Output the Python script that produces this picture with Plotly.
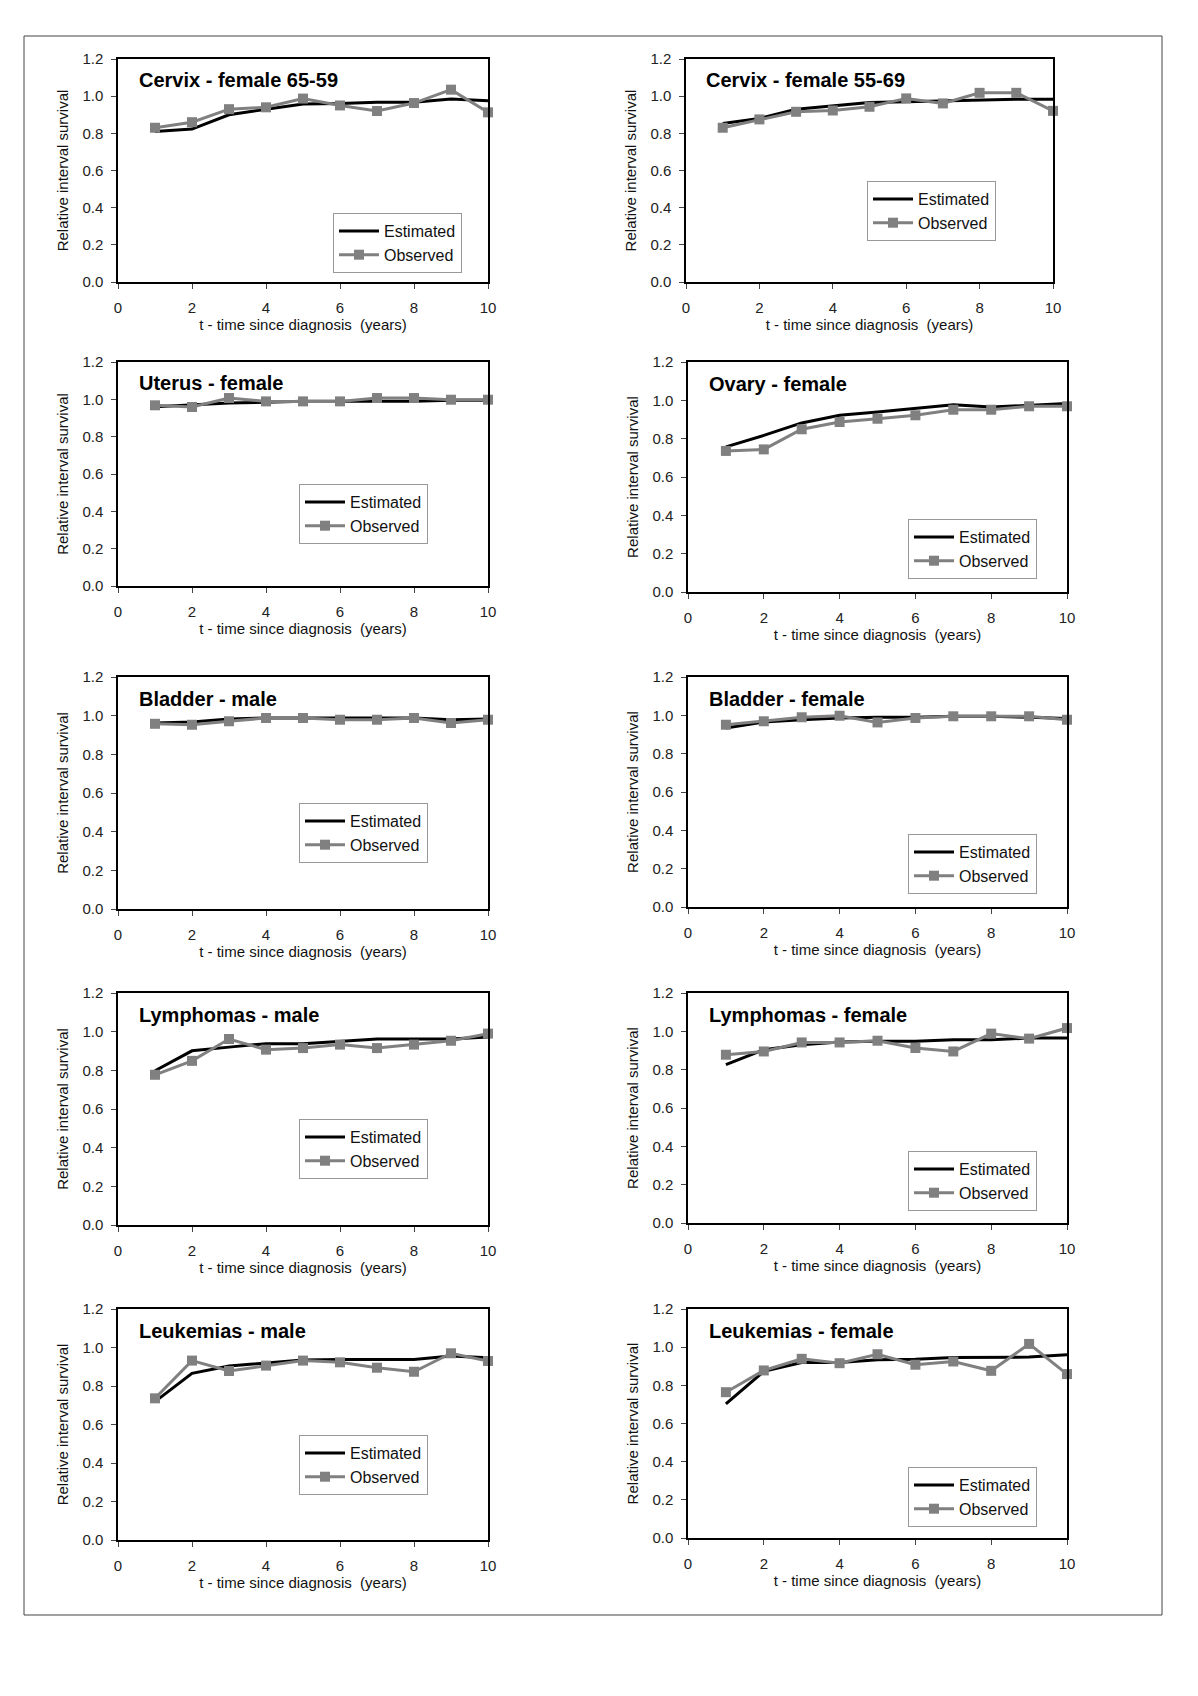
import plotly.graph_objects as go

# years since diagnosis
t = [1, 2, 3, 4, 5, 6, 7, 8, 9, 10]

panel_titles = ["Cervix - female 65-59", "Cervix - female 55-69",
                "Uterus - female", "Ovary - female",
                "Bladder - male", "Bladder - female",
                "Lymphomas - male", "Lymphomas - female",
                "Leukemias - male", "Leukemias - female"]

cervix_6559_est = [0.81, 0.823, 0.90, 0.927, 0.958, 0.96, 0.967, 0.967, 0.985, 0.976]
cervix_6559_obs = [0.83, 0.86, 0.93, 0.94, 0.987, 0.95, 0.92, 0.963, 1.035, 0.913]
cervix_5569_est = [0.853, 0.88, 0.93, 0.948, 0.966, 0.97, 0.975, 0.979, 0.984, 0.984]
cervix_5569_obs = [0.83, 0.875, 0.916, 0.923, 0.943, 0.988, 0.961, 1.018, 1.018, 0.921]
uterus_est = [0.96, 0.97, 0.98, 0.985, 0.99, 0.99, 0.99, 0.99, 0.995, 0.995]
uterus_obs = [0.968, 0.959, 1.007, 0.989, 0.989, 0.989, 1.007, 1.007, 0.998, 0.998]
ovary_est = [0.757, 0.817, 0.882, 0.922, 0.939, 0.957, 0.977, 0.965, 0.974, 0.983]
ovary_obs = [0.736, 0.744, 0.849, 0.887, 0.904, 0.922, 0.951, 0.951, 0.969, 0.969]
bladder_m_est = [0.962, 0.967, 0.983, 0.988, 0.988, 0.988, 0.988, 0.988, 0.979, 0.983]
bladder_m_obs = [0.958, 0.953, 0.971, 0.988, 0.988, 0.979, 0.979, 0.988, 0.962, 0.979]
bladder_f_est = [0.934, 0.965, 0.977, 0.986, 0.99, 0.99, 0.995, 0.995, 0.99, 0.983]
bladder_f_obs = [0.951, 0.969, 0.99, 0.998, 0.963, 0.986, 0.995, 0.995, 0.995, 0.977]
lymph_m_est = [0.798, 0.901, 0.92, 0.938, 0.938, 0.95, 0.962, 0.962, 0.962, 0.972]
lymph_m_obs = [0.777, 0.849, 0.962, 0.907, 0.915, 0.933, 0.915, 0.933, 0.953, 0.99]
lymph_f_est = [0.826, 0.904, 0.93, 0.944, 0.948, 0.948, 0.956, 0.956, 0.965, 0.965]
lymph_f_obs = [0.878, 0.895, 0.942, 0.942, 0.951, 0.913, 0.895, 0.988, 0.962, 1.017]
leuk_m_est = [0.719, 0.866, 0.904, 0.921, 0.935, 0.938, 0.938, 0.938, 0.956, 0.947]
leuk_m_obs = [0.736, 0.932, 0.878, 0.906, 0.932, 0.923, 0.895, 0.874, 0.97, 0.93]
leuk_f_est = [0.703, 0.873, 0.92, 0.92, 0.934, 0.937, 0.946, 0.946, 0.948, 0.96]
leuk_f_obs = [0.764, 0.878, 0.939, 0.916, 0.963, 0.908, 0.925, 0.876, 1.017, 0.859]

estimated = [cervix_6559_est, cervix_5569_est, uterus_est, ovary_est, bladder_m_est,
             bladder_f_est, lymph_m_est, lymph_f_est, leuk_m_est, leuk_f_est]
observed = [cervix_6559_obs, cervix_5569_obs, uterus_obs, ovary_obs, bladder_m_obs,
            bladder_f_obs, lymph_m_obs, lymph_f_obs, leuk_m_obs, leuk_f_obs]

W, H = 1198, 1696
OFF = 8  # page body margin pushes the figure right and down

# plot boxes in pixels (page coords): left, right, top, bottom
boxes = [(118, 488, 59, 282), (686, 1053, 59, 282),
         (118, 488, 362, 586), (688, 1067, 362, 592),
         (118, 488, 677, 909), (688, 1067, 677, 907),
         (118, 488, 993, 1225), (688, 1067, 993, 1223),
         (118, 488, 1309, 1540), (688, 1067, 1309, 1538)]
# legend top-left corners in pixels
legend_pos = [(333, 213), (867, 181), (299, 484), (908, 519), (299, 803),
              (908, 834), (299, 1119), (908, 1151), (299, 1435), (908, 1467)]


def px(x):
    return (x - OFF) / W


def py(y):
    return 1 - (y - OFF) / H


font = "Arial, Liberation Sans, sans-serif"
grey = "#808080"

fig = go.Figure()
layout = dict(width=W, height=H, margin=dict(l=0, r=0, t=0, b=0, pad=0, autoexpand=False),
              paper_bgcolor="white", plot_bgcolor="white", showlegend=True,
              font=dict(family=font, size=15, color="#111"))
annotations = []

for i in range(10):
    n = "" if i == 0 else str(i + 1)
    xa, ya = "x" + n, "y" + n
    lg = "legend" + n
    fig.add_trace(go.Scatter(x=t, y=estimated[i], mode="lines", name="Estimated",
                             line=dict(color="black", width=3), xaxis=xa, yaxis=ya,
                             legend=lg, cliponaxis=False))
    fig.add_trace(go.Scatter(x=t, y=observed[i], mode="lines+markers", name="Observed",
                             line=dict(color=grey, width=3),
                             marker=dict(symbol="square", size=10, color=grey),
                             xaxis=xa, yaxis=ya, legend=lg, cliponaxis=False))
    l, r, top, bot = boxes[i]
    layout["xaxis" + n] = dict(domain=[px(l), px(r)], range=[0, 10], anchor=ya,
                               automargin=False,
                               tickvals=[0, 2, 4, 6, 8, 10], ticks="outside", ticklen=5,
                               ticklabelstandoff=6,
                               showline=True, linecolor="black", linewidth=1.5,
                               mirror=True, showgrid=False, zeroline=False,
                               tickfont=dict(size=15, color="#222"),
                               title=dict(text="t - time since diagnosis  (years)",
                                          font=dict(size=15), standoff=4))
    layout["yaxis" + n] = dict(domain=[py(bot), py(top)], range=[0, 1.2], anchor=xa,
                               automargin=False,
                               tickvals=[0, 0.2, 0.4, 0.6, 0.8, 1.0, 1.2], tickformat=".1f",
                               ticks="outside", ticklen=5, ticklabelstandoff=5,
                               showline=True, linecolor="black", linewidth=1.5,
                               mirror=True, showgrid=False, zeroline=False,
                               tickfont=dict(size=15, color="#222"),
                               title=dict(text="Relative interval survival",
                                          font=dict(size=15), standoff=10))
    lx, ly = legend_pos[i]
    layout[lg] = dict(x=px(lx), y=py(ly), xanchor="left", yanchor="top",
                      bgcolor="white", bordercolor="#999", borderwidth=1,
                      font=dict(size=16, color="#111"), tracegroupgap=0,
                      itemwidth=40)
    annotations.append(dict(text="<b>" + panel_titles[i] + "</b>",
                            xref=xa + " domain", yref=ya + " domain", x=0.05, y=0.905,
                            xanchor="left", yanchor="middle", showarrow=False,
                            font=dict(size=20, color="black")))

layout["annotations"] = annotations
layout["shapes"] = [dict(type="rect", xref="paper", yref="paper",
                         x0=px(24), x1=px(1162), y0=py(1615), y1=py(36),
                         line=dict(color="#444", width=1))]
fig.update_layout(**layout)
fig.write_html("out.html")
